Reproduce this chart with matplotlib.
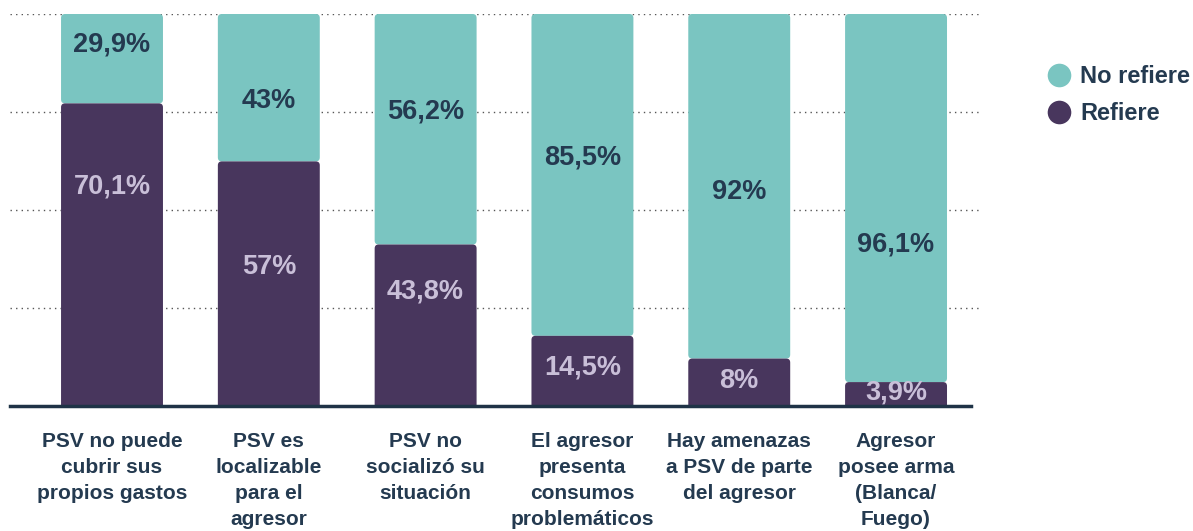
import matplotlib
matplotlib.use("Agg")
import matplotlib.pyplot as plt
from matplotlib.patches import FancyBboxPatch
from matplotlib.lines import Line2D

plt.rcParams['font.family'] = ['Liberation Sans', 'DejaVu Sans']

# Data
categories = [
    "PSV no puede\ncubrir sus\npropios gastos",
    "PSV es\nlocalizable\npara el\nagresor",
    "PSV no\nsocializó su\nsituación",
    "El agresor\npresenta\nconsumos\nproblemáticos",
    "Hay amenazas\na PSV de parte\ndel agresor",
    "Agresor\nposee arma\n(Blanca/\nFuego)",
]
refiere_labels = ["70,1%", "57%", "43,8%", "14,5%", "8%", "3,9%"]
no_refiere_labels = ["29,9%", "43%", "56,2%", "85,5%", "92%", "96,1%"]
# bar heights as drawn in the reference (percent of full bar)
refiere_drawn = [77.2, 62.4, 41.2, 17.9, 12.1, 6.1]
no_refiere_drawn = [22.8, 37.6, 58.8, 82.1, 87.9, 93.9]

# label heights as placed in the reference (layout, not data)
refiere_label_y = [56.1, 35.5, 29.2, 9.7, 6.4, 3.4]
no_refiere_label_y = [92.1, 77.8, 75.1, 63.3, 54.6, 41.1]

TEAL = '#7ac5c1'
PURPLE = '#48365d'
DARK = '#243a50'
LIGHT = '#c9bfd8'

fig = plt.figure(figsize=(11.93, 5.31), dpi=100)
ax = fig.add_axes([10 / 1193, 125 / 531, 969 / 1193, 392 / 531])

x = list(range(len(categories)))
width = 0.65
b1 = ax.bar(x, refiere_drawn, width=width, color=PURPLE)
b2 = ax.bar(x, no_refiere_drawn, width=width, bottom=refiere_drawn, color=TEAL)

# swap plain rectangles for slightly rounded ones
for patch in list(b2.patches) + list(b1.patches):
    bx, by = patch.get_x(), patch.get_y()
    bw, bh = patch.get_width(), patch.get_height()
    if by == 0:
        by, bh = by - 2, bh + 2
    ax.add_patch(FancyBboxPatch((bx, by), bw, bh,
                                boxstyle="round,pad=0,rounding_size=0.025",
                                mutation_aspect=40, facecolor=patch.get_facecolor(),
                                edgecolor='none', zorder=3 if by < 0 else 2))
    patch.set_visible(False)

for i in x:
    ax.text(i, refiere_label_y[i], refiere_labels[i], ha='center', va='center',
            fontsize=19.5, fontweight='bold', color=LIGHT, zorder=4)
    ax.text(i, no_refiere_label_y[i], no_refiere_labels[i], ha='center', va='center',
            fontsize=19.5, fontweight='bold', color=DARK, zorder=4)

ax.set_xlim(-0.6505, 5.529)
ax.set_ylim(0, 100)
for g in [25, 50, 75, 100]:
    ax.axhline(g, color='#555555', linestyle=(0, (1, 3)), linewidth=1.0, zorder=1)
ax.axhline(0, xmax=0.992, color='#1f3347', linewidth=2.5, zorder=5, clip_on=False)

for s in ax.spines.values():
    s.set_visible(False)
ax.set_yticks([])
ax.set_xticks(x)
ax.set_xticklabels(categories, fontsize=15, fontweight='bold', color=DARK,
                   linespacing=1.45)
ax.tick_params(axis='x', length=0, pad=19)

handles = [
    Line2D([], [], marker='o', linestyle='none', markersize=17,
           markerfacecolor=TEAL, markeredgecolor='none', label='No refiere'),
    Line2D([], [], marker='o', linestyle='none', markersize=17,
           markerfacecolor=PURPLE, markeredgecolor='none', label='Refiere'),
]
leg = fig.legend(handles=handles, loc='upper left',
                 bbox_to_anchor=(1047 / 1193, 1 - 65 / 531),
                 frameon=False, handlelength=1.0, handletextpad=0.4,
                 labelspacing=0.6, borderaxespad=0, borderpad=0,
                 prop={'family': ['Liberation Sans'], 'weight': 'bold', 'size': 17})
for t in leg.get_texts():
    t.set_color(DARK)

fig.savefig('out.png', dpi=100, facecolor='white')
